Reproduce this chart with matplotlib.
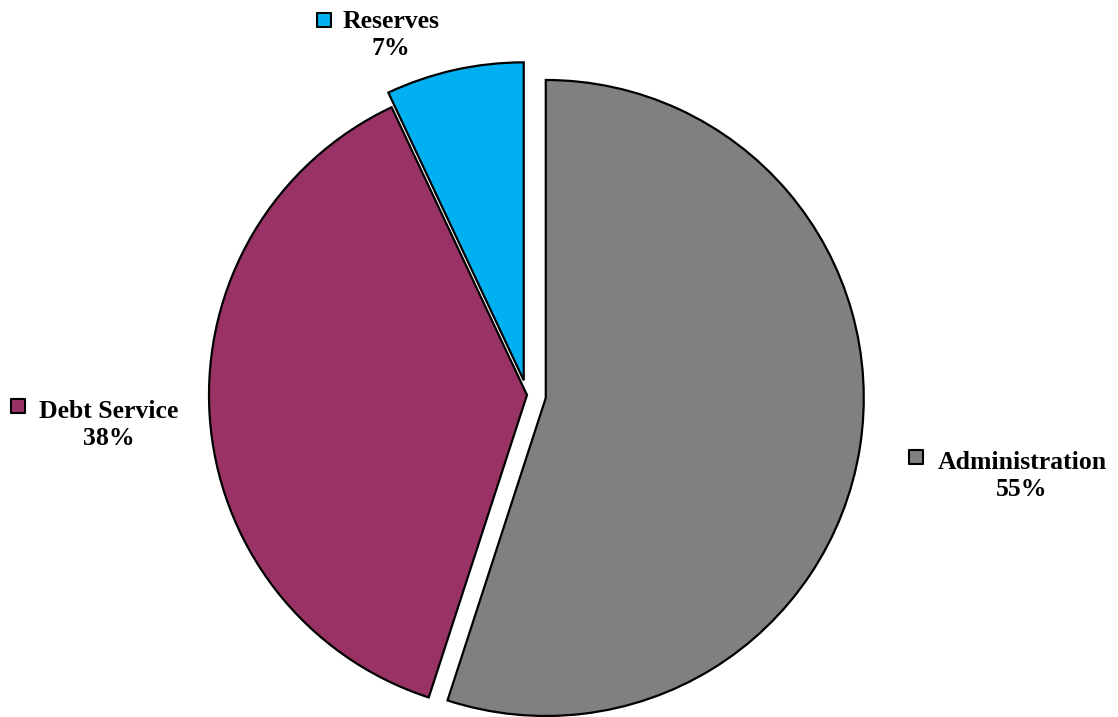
import matplotlib.pyplot as plt

# Datos del gráfico
categorias = ['Administration', 'Debt Service', 'Reserves']
valores = [55, 38, 7]
colores = ['#808080', '#993366', '#00B0F0']
separacion = [19, 0, 15]  # desplazamiento de cada porción (píxeles)

# Posiciones de las etiquetas (en píxeles, origen abajo a la izquierda)
pos_etiquetas = [(1022, 241), (109, 292), (391, 682)]
pos_cuadros = [(916, 260), (18, 311), (324, 697)]

fig = plt.figure(figsize=(11.18, 7.17), dpi=100)
ax = fig.add_axes([0, 0, 1, 1])

ax.pie(valores, colors=colores, explode=separacion, startangle=90,
       counterclock=False, radius=318, center=(527, 322),
       wedgeprops=dict(edgecolor='black', linewidth=1.6))

for cat, val, col, (tx, ty), (sx, sy) in zip(categorias, valores, colores,
                                             pos_etiquetas, pos_cuadros):
    ax.text(tx, ty, f'{cat}\n{val}%', ha='center', va='center',
            fontsize=18.5, fontweight='bold', family='Liberation Serif',
            linespacing=1.25)
    ax.scatter([sx], [sy], marker='s', s=90, color=col,
               edgecolors='black', linewidths=1.5, zorder=5)

ax.set_xlim(0, 1118)
ax.set_ylim(0, 717)
ax.set_aspect('equal')
ax.axis('off')

fig.savefig('out.png', dpi=100)
